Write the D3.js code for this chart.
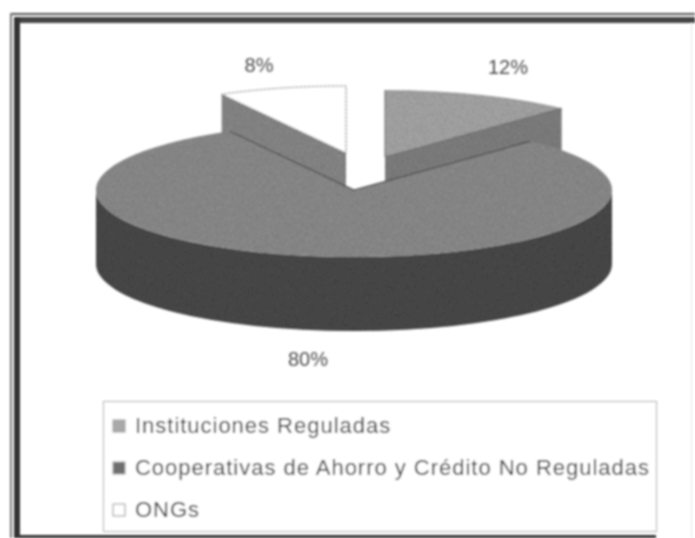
<!DOCTYPE html>
<html lang="es">
<head>
<meta charset="utf-8">
<title>Pie chart</title>
<script src="https://d3js.org/d3.v7.min.js"></script>
<style>
    html, body { margin: 0; padding: 0; background: #fff; }
    svg { display: block; }
    text { font-family: "Liberation Sans", Arial, sans-serif; }
</style>
</head>
<body>
<div id="chart"></div>
<script>
    var categories = ["Instituciones Reguladas", "Cooperativas de Ahorro y Crédito No Reguladas", "ONGs"];
    var shares = [12, 80, 8];
    var shareLabels = ["12%", "80%", "8%"];

    var width = 695, height = 538;
    var rx = 258, ry = 67, depth = 74;
    var cx = 354, cy = 190;

    // how far the pulled out slices sit from the centre of the pie
    var offsets = [[31, -33], [0, 0], [-8, -37]];
    var topColor = ["#a9a9a9", "#8e8e8e", "#ffffff"];
    var wallColor = ["#828282", "#4b4b4b", "#8a8a8a"];
    var swatchColor = ["#a9a9a9", "#6e6e6e", "#ffffff"];
    var labelPos = [[508, 74], [308, 366], [259, 72]];

    var svg = d3.select("#chart").append("svg")
        .attr("width", width)
        .attr("height", height);

    var defs = svg.append("defs");
    defs.append("filter").attr("id", "soft")
        .attr("x", "-5%").attr("y", "-5%").attr("width", "110%").attr("height", "110%")
        .append("feGaussianBlur").attr("stdDeviation", 0.8);

    var grain = defs.append("filter").attr("id", "grain")
        .attr("x", "0").attr("y", "0").attr("width", "100%").attr("height", "100%");
    grain.append("feTurbulence")
        .attr("type", "fractalNoise").attr("baseFrequency", 0.9)
        .attr("numOctaves", 2).attr("seed", 4).attr("result", "n");
    grain.append("feColorMatrix").attr("in", "n")
        .attr("values", "0 0 0 0 0  0 0 0 0 0  0 0 0 0 0  0 0 0 1.1 -0.42")
        .attr("result", "spots");
    grain.append("feComposite").attr("in", "spots").attr("in2", "SourceAlpha")
        .attr("operator", "in").attr("result", "clipped");
    var merge = grain.append("feMerge");
    merge.append("feMergeNode").attr("in", "SourceGraphic");
    merge.append("feMergeNode").attr("in", "clipped");

    // scanned frame
    var frame = svg.append("g").attr("filter", "url(#soft)");
    frame.append("rect").attr("x", 10).attr("y", 13).attr("width", 685).attr("height", 2).attr("fill", "#555");
    frame.append("rect").attr("x", 14).attr("y", 17).attr("width", 681).attr("height", 6).attr("fill", "#444");
    frame.append("rect").attr("x", 10).attr("y", 13).attr("width", 2).attr("height", 525).attr("fill", "#777");
    frame.append("rect").attr("x", 14).attr("y", 17).attr("width", 6).attr("height", 521).attr("fill", "#333");
    frame.append("rect").attr("x", 20).attr("y", 535).attr("width", 636).attr("height", 3).attr("fill", "#333");
    frame.append("rect").attr("x", 691).attr("y", 23).attr("width", 1).attr("height", 515).attr("fill", "#e4e4e4");

    var slices = d3.pie().sort(null).startAngle(0).endAngle(2 * Math.PI)(shares);

    // point on the rim of a slice, angle clockwise from the top
    function rim(a, i) {
        return [cx + offsets[i][0] + rx * Math.sin(a), cy + offsets[i][1] - ry * Math.cos(a)];
    }
    function hub(i) {
        return [cx + offsets[i][0], cy + offsets[i][1]];
    }
    function topPath(d, i) {
        var h = hub(i), s = rim(d.startAngle, i), e = rim(d.endAngle, i);
        var large = d.endAngle - d.startAngle > Math.PI ? 1 : 0;
        return "M" + h + "L" + s + "A" + rx + "," + ry + " 0 " + large + " 1 " + e + "Z";
    }
    // flat radial wall seen through the gap
    function wallPath(a, i) {
        var h = hub(i), s = rim(a, i);
        return "M" + h + "L" + s + "L" + [s[0], s[1] + depth] + "L" + [h[0], h[1] + depth] + "Z";
    }
    // the two straight edges of a slice, without the rim
    function edgePath(d, i) {
        return "M" + rim(d.startAngle, i) + "L" + hub(i) + "L" + rim(d.endAngle, i);
    }
    // front of the big slice
    function frontPath() {
        return "M" + [cx - rx, cy] + "A" + rx + "," + ry + " 0 0 0 " + [cx + rx, cy] +
            "L" + [cx + rx, cy + depth] + "A" + rx + "," + ry + " 0 0 1 " + [cx - rx, cy + depth] + "Z";
    }

    var pie3d = svg.append("g").attr("filter", "url(#soft)");
    var shaded = pie3d.append("g").attr("filter", "url(#grain)");

    // pulled out slices go first, the big slice covers their lower part
    shaded.append("path").attr("d", wallPath(slices[0].endAngle, 0)).attr("fill", wallColor[0]);
    shaded.append("path").attr("d", wallPath(slices[2].startAngle, 2)).attr("fill", wallColor[2]);
    shaded.append("path").attr("d", topPath(slices[0], 0)).attr("fill", topColor[0]);
    pie3d.append("path").attr("d", edgePath(slices[0], 0))
        .attr("fill", "none").attr("stroke", "#666").attr("stroke-width", 1);
    pie3d.append("path").attr("d", topPath(slices[2], 2))
        .attr("fill", topColor[2])
        .attr("stroke", "#777").attr("stroke-width", 1).attr("stroke-dasharray", "3 1");
    var big = pie3d.append("g").attr("filter", "url(#grain)");
    big.append("path").attr("d", frontPath()).attr("fill", wallColor[1]);
    big.append("path").attr("d", topPath(slices[1], 1)).attr("fill", topColor[1]);
    pie3d.append("path").attr("d", edgePath(slices[1], 1))
        .attr("fill", "none").attr("stroke", "#4a4a4a").attr("stroke-width", 1.2);

    svg.append("g").attr("filter", "url(#soft)")
        .selectAll("text")
        .data(shareLabels)
        .enter()
        .append("text")
        .attr("x", function(d, i) { return labelPos[i][0]; })
        .attr("y", function(d, i) { return labelPos[i][1]; })
        .attr("text-anchor", "middle")
        .attr("font-size", 20)
        .attr("fill", "#4d4d4d")
        .text(function(d) { return d; });

    // legend
    var rows = d3.scalePoint().domain(categories).range([426, 510]);
    var legend = svg.append("g").attr("filter", "url(#soft)");
    legend.append("rect")
        .attr("x", 103.5).attr("y", 401.5).attr("width", 553).attr("height", 130)
        .attr("fill", "#fff").attr("stroke", "#aaa").attr("stroke-width", 1);
    var row = legend.selectAll("g.row")
        .data(categories)
        .enter()
        .append("g")
        .attr("class", "row")
        .attr("transform", function(d) { return "translate(0," + rows(d) + ")"; });
    row.append("rect")
        .attr("x", 113).attr("y", -6).attr("width", 12).attr("height", 12)
        .attr("fill", function(d, i) { return swatchColor[i]; })
        .attr("stroke", "#999");
    row.append("text")
        .attr("x", 135).attr("y", 7)
        .attr("font-size", 22)
        .attr("letter-spacing", 0.98)
        .attr("fill", "#333")
        .text(function(d) { return d; });
</script>
</body>
</html>
